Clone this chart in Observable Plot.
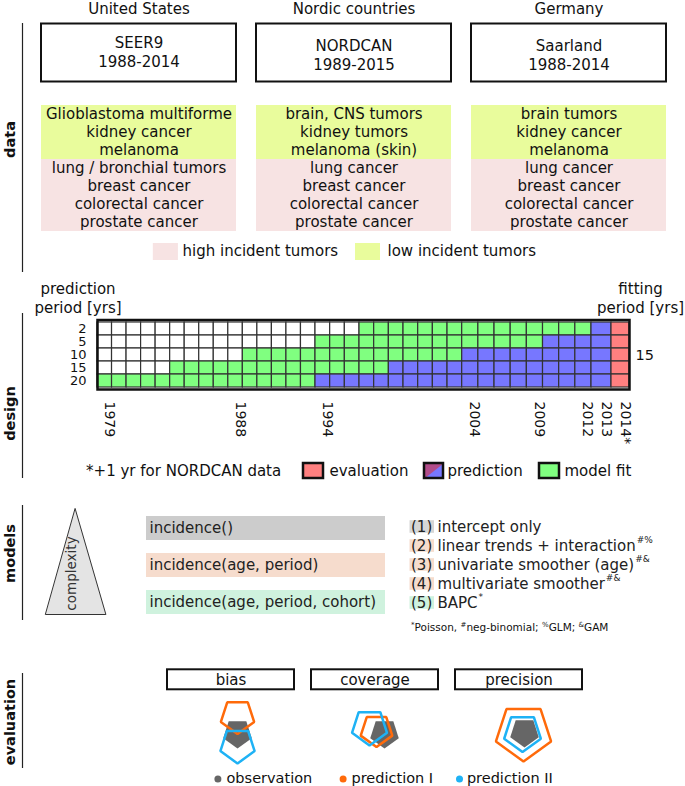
<!DOCTYPE html>
<html><head><meta charset="utf-8">
<script src="https://cdn.jsdelivr.net/npm/d3@7"></script>
<script src="https://cdn.jsdelivr.net/npm/@observablehq/plot@0.6"></script>
<style>
body{margin:0;background:#fff;font-family:"DejaVu Sans",sans-serif;}
#fig{position:relative;width:685px;height:786px;overflow:hidden;background:#fff;}
.layer{position:absolute;}
.layer svg{overflow:visible;display:block;}
#foot{position:absolute;left:411px;top:621px;font-size:10.5px;line-height:12px;color:#111;white-space:nowrap;font-family:"DejaVu Sans",sans-serif;}
#foot sup{font-size:7px;vertical-align:4px;line-height:0;}
</style></head><body><div id="fig"></div>
<script>
// ---------------- data ----------------
const sections = ["data", "design", "models", "evaluation"];

const countries = ["United States", "Nordic countries", "Germany"];
const registries = ["SEER9", "NORDCAN", "Saarland"];
const registryPeriods = ["1988-2014", "1989-2015", "1988-2014"];
const lowIncidentTumors = [
  ["Glioblastoma multiforme", "kidney cancer", "melanoma"],
  ["brain, CNS tumors", "kidney tumors", "melanoma (skin)"],
  ["brain tumors", "kidney cancer", "melanoma"]
];
const highIncidentTumors = [
  ["lung / bronchial tumors", "breast cancer", "colorectal cancer", "prostate cancer"],
  ["lung cancer", "breast cancer", "colorectal cancer", "prostate cancer"],
  ["lung cancer", "breast cancer", "colorectal cancer", "prostate cancer"]
];
const incidenceClasses = ["high incident tumors", "low incident tumors"];

const predictionPeriods = [2, 5, 10, 15, 20];
const fittingPeriod = 15;
const nYears = 35;
const yearTickCols = [0, 9, 15, 25, 29, 32, 33, 34];
const yearTickLabels = ["1979", "1988", "1994", "2004", "2009", "2012", "2013", "2014*"];
const designStatus = ["evaluation", "prediction", "model fit"];
const designNote = "*+1 yr for NORDCAN data";
const designAxisTitles = ["prediction\nperiod [yrs]", "fitting\nperiod [yrs]"];

const modelForms = ["incidence()", "incidence(age, period)", "incidence(age, period, cohort)"];
const modelNames = ["intercept only", "linear trends + interaction", "univariate smoother (age)", "multivariate smoother", "BAPC"];
const modelFormIndex = [0, 1, 1, 1, 2];
const modelMarks = ["", "#%", "#&", "#&", "*"];
const complexityLabel = "complexity";

const metrics = ["bias", "coverage", "precision"];
const series = ["observation", "prediction I", "prediction II"];
// illustrative pentagons per metric (rows) x series (cols): shift and radius
const shiftX = [[7, 7, 7], [9, 1, -6], [4, 3, 2]];
const shiftY = [[0, -17, 12], [0, -3, -6.4], [-1, -1, -0.7]];
const radius = [[15, 17.5, 18], [15, 16.6, 18.4], [15, 29, 19.3]];

// ---------------- styles / layout ----------------
const FONT = "DejaVu Sans";
const INK = "#111";
const LIME = "#e9fc9c", PINKL = "#f7e3e3";
const C_EVAL = "#ff8080", C_PRED = "#7777ff", C_FIT = "#80ff80", C_PURPLE = "#b24c8a";
const FORM_COLORS = ["#cccccc", "#f6dccd", "#cff2de"];
const LIST_COLORS = ["#d6d6d6", "#f6dccd", "#cff2de"];
const SERIES_COLORS = ["#666666", "#ff6a0a", "#1eb2f5"];

const L = {
  secRule: [[23, 272], [313, 478], [505, 620], [673, 768]],
  secMid: [139, 413, 553, 721.5],
  dataLegX: [[152.8, 177.9, 182], [355, 380, 387]],
  dataLegY: [243, 260, 251],
  designLegX: [[303, 323, 329], [424, 443, 447], [539, 559, 564]],
  designLegY: [463, 478, 470.5],
  designTitleX: [77.5, 640], designTitleY: 296.5,
  tri: [[74.7, 508.3], [105.4, 614], [45.2, 614]],
  evalLegX: [[217.4, 226], [342.6, 351], [459, 466.4]], evalLegY: 777.5
};

const fig = document.getElementById("fig");
function place(node, left, top) {
  const d = document.createElement("div");
  d.className = "layer";
  d.style.left = left + "px";
  d.style.top = top + "px";
  d.appendChild(node);
  fig.appendChild(d);
}
const baseStyle = {background: "transparent", fontFamily: FONT, fontSize: "15px", overflow: "visible", color: INK};
const pix = (n) => ({domain: [0, n], range: [0, n], axis: null});

// ---------------- overlay: section rules, labels, legends ----------------
const triVerts = L.tri.map(([x, y]) => ({x, y}));
place(Plot.plot({
  width: 685, height: 786, margin: 0,
  x: pix(685), y: pix(786),
  style: baseStyle,
  marks: [
    Plot.ruleX(sections, {x: 22, y1: (d, i) => L.secRule[i][0], y2: (d, i) => L.secRule[i][1], stroke: "#222", strokeWidth: 1.2}),
    Plot.text(sections, {x: 9.5, y: (d, i) => L.secMid[i], text: d => d, rotate: -90, fontWeight: "bold", fontSize: 14.5, fill: INK}),
    // data legend
    Plot.rect(incidenceClasses, {x1: (d, i) => L.dataLegX[i][0], x2: (d, i) => L.dataLegX[i][1], y1: L.dataLegY[0], y2: L.dataLegY[1], fill: (d, i) => i === 0 ? PINKL : LIME}),
    Plot.text(incidenceClasses, {x: (d, i) => L.dataLegX[i][2], y: L.dataLegY[2], text: d => d, textAnchor: "start", fontSize: 15, fill: INK}),
    // design axis titles
    Plot.text(designAxisTitles, {x: (d, i) => L.designTitleX[i], y: L.designTitleY, text: d => d, lineHeight: 1.29, fontSize: 15, fill: INK}),
    // design legend
    Plot.text([designNote], {x: 85.6, y: L.designLegY[2], text: d => d, textAnchor: "start", fontSize: 15, fill: INK}),
    Plot.rect(designStatus, {x1: (d, i) => L.designLegX[i][0], x2: (d, i) => L.designLegX[i][1], y1: L.designLegY[0], y2: L.designLegY[1],
      fill: d => d === "evaluation" ? C_EVAL : d === "prediction" ? C_PRED : C_FIT}),
    Plot.line([[L.designLegX[1][0], L.designLegY[0]], [L.designLegX[1][1], L.designLegY[0]], [L.designLegX[1][0], L.designLegY[1]]],
      {x: d => d[0], y: d => d[1], fill: C_PURPLE, stroke: "none", curve: "linear-closed"}),
    Plot.rect(designStatus, {x1: (d, i) => L.designLegX[i][0], x2: (d, i) => L.designLegX[i][1], y1: L.designLegY[0], y2: L.designLegY[1],
      fill: "none", stroke: INK, strokeWidth: 2.5}),
    Plot.text(designStatus, {x: (d, i) => L.designLegX[i][2], y: L.designLegY[2], text: d => d, textAnchor: "start", fontSize: 15, fill: INK}),
    // complexity triangle
    Plot.line(triVerts, {x: "x", y: "y", fill: "#e4e4e4", stroke: "#333", strokeWidth: 1, curve: "linear-closed"}),
    Plot.text([complexityLabel], {x: 71.6, y: 573, text: d => d, rotate: -90, fontSize: 13.5, fill: "#333"}),
    // evaluation legend
    Plot.dot(series, {x: (d, i) => L.evalLegX[i][0], y: L.evalLegY + 1, r: 3.5, fill: (d, i) => SERIES_COLORS[i], stroke: "none"}),
    Plot.text(series, {x: (d, i) => L.evalLegX[i][1], y: L.evalLegY, text: d => d, textAnchor: "start", fontSize: 14.5, fill: INK})
  ]
}), 0, 0);

// ---------------- data section: headings + registry boxes ----------------
const xReg = {type: "band", domain: countries, range: [41, 666], paddingInner: 0.095, paddingOuter: 0, axis: null};
const regRows = countries.map((c, i) => ({country: c, registry: registries[i], period: registryPeriods[i]}));
place(Plot.plot({
  width: 685, height: 100, margin: 0,
  x: xReg, y: pix(100),
  style: baseStyle,
  marks: [
    Plot.text(countries, {x: d => d, y: 8.5, text: d => d, fontSize: 15, fill: INK}),
    Plot.barY(regRows, {x: "country", y1: 23.5, y2: 81.5, fill: "white", stroke: INK, strokeWidth: 2}),
    Plot.text(regRows, {x: "country", y: (d, i) => i === 0 ? 51 : 54, text: d => d.registry + "\n" + d.period, lineHeight: 1.22, fontSize: 15, fill: INK})
  ]
}), 0, 0);

// ---------------- data section: tumor table ----------------
const tumorCells = [];
countries.forEach((c, i) => {
  lowIncidentTumors[i].forEach((t, j) => tumorCells.push({country: c, row: j, tumor: t, cls: incidenceClasses[1]}));
  highIncidentTumors[i].forEach((t, j) => tumorCells.push({country: c, row: lowIncidentTumors[i].length + j, tumor: t, cls: incidenceClasses[0]}));
});
place(Plot.plot({
  width: 685, height: 130, margin: 0,
  x: xReg,
  y: {type: "band", domain: d3.range(7), range: [0, 130], padding: 0, axis: null},
  color: {type: "ordinal", domain: incidenceClasses, range: [PINKL, LIME]},
  style: baseStyle,
  marks: [
    Plot.cell(tumorCells, {x: "country", y: "row", fill: "cls", inset: 0}),
    Plot.text(tumorCells, {x: "country", y: "row", text: "tumor", fontSize: 15, fill: INK})
  ]
}), 0, 103.3);

// ---------------- design grid ----------------
const gridCells = [];
predictionPeriods.forEach(p => {
  for (let c = 0; c < nYears; c++) {
    const status = c >= nYears - 1 ? "evaluation"
      : c >= nYears - p ? "prediction"
      : c >= nYears - p - fittingPeriod ? "model fit" : "none";
    gridCells.push({col: c, period: p, status});
  }
});
place(Plot.plot({
  width: 685, height: 210, marginLeft: 97, marginRight: 56, marginTop: 49.5, marginBottom: 91,
  x: {type: "linear", domain: [0, 15, 25, 33, 34, 35], range: [97, 315, 461.7, 591, 611, 629], axis: null},
  y: {type: "band", domain: predictionPeriods, padding: 0, axis: null},
  color: {type: "ordinal", domain: ["none", ...designStatus], range: ["white", C_EVAL, C_PRED, C_FIT]},
  style: {...baseStyle, fontSize: "14px"},
  marks: [
    Plot.barX(gridCells, {x1: "col", x2: d => d.col + 1, y: "period", fill: "status", stroke: "#333", strokeWidth: 1.2}),
    Plot.frame({stroke: INK, strokeWidth: 2.5}),
    Plot.text(predictionPeriods, {y: d => d, frameAnchor: "left", textAnchor: "end", dx: -11, text: d => String(d), fontSize: 13, fill: INK}),
    Plot.text([fittingPeriod], {y: () => 10, frameAnchor: "right", textAnchor: "start", dx: 6, text: d => String(d), fontSize: 14.5, fill: INK}),
    Plot.text(yearTickCols, {x: d => d + 0.5, frameAnchor: "bottom", rotate: 90, textAnchor: "start", dy: 12, text: (d, i) => yearTickLabels[i], fontSize: 14, fill: INK})
  ]
}), 0, 270);

// ---------------- models: forms ----------------
place(Plot.plot({
  width: 685, height: 140, margin: 0,
  x: pix(685),
  y: {type: "band", domain: modelForms, range: [25, 125], paddingInner: 0.357, paddingOuter: 0, axis: null},
  color: {type: "ordinal", domain: modelForms, range: FORM_COLORS},
  style: baseStyle,
  marks: [
    Plot.barX(modelForms, {y: d => d, x1: 146, x2: 385, fill: d => d}),
    Plot.text(modelForms, {y: d => d, x: 149, textAnchor: "start", text: d => d, fontSize: 15, fill: "#222"})
  ]
}), 0, 490);

// ---------------- models: list ----------------
const modelRows = modelNames.map((name, i) => ({n: i + 1, name, form: modelForms[modelFormIndex[i]], mark: modelMarks[i]}));
const ctx = document.createElement("canvas").getContext("2d");
ctx.font = "15px 'DejaVu Sans'";
place(Plot.plot({
  width: 685, height: 140, margin: 0,
  x: pix(685),
  y: {type: "band", domain: modelRows.map(d => d.n), range: [25.1, 123.9], padding: 0, axis: null},
  color: {type: "ordinal", domain: modelForms, range: LIST_COLORS},
  style: baseStyle,
  marks: [
    Plot.barX(modelRows, {y: "n", x1: 409.5, x2: 434, fill: "form", insetTop: 3.2, insetBottom: 3.2}),
    Plot.text(modelRows, {y: "n", x: 410.5, textAnchor: "start", text: d => `(${d.n})`, fontSize: 15, fill: "#222"}),
    Plot.text(modelRows, {y: "n", x: 437, textAnchor: "start", text: "name", fontSize: 15, fill: "#222"}),
    Plot.text(modelRows.filter(d => d.mark), {y: "n", x: d => 437 + ctx.measureText(d.name).width + 1, dy: -6, textAnchor: "start", text: "mark", fontSize: 9, fill: "#222"})
  ]
}), 0, 490);

// footnote
const foot = document.createElement("div");
foot.id = "foot";
foot.innerHTML = "<sup>*</sup>Poisson, <sup>#</sup>neg-binomial; <sup>%</sup>GLM; <sup>&amp;</sup>GAM";
fig.appendChild(foot);

// ---------------- evaluation: metric boxes ----------------
const xMet = {type: "band", domain: metrics, range: [166, 584], paddingInner: 0.117, paddingOuter: 0, axis: null};
place(Plot.plot({
  width: 685, height: 40, margin: 0,
  x: xMet, y: pix(40),
  style: baseStyle,
  marks: [
    Plot.barY(metrics, {x: d => d, y1: 9.3, y2: 29.3, fill: "white", stroke: INK, strokeWidth: 2}),
    Plot.text(metrics, {x: d => d, y: 19.3, text: d => d, fontSize: 15, fill: INK})
  ]
}), 0, 660);

// ---------------- evaluation: pentagons ----------------
const metricBand = d3.scaleBand().domain(metrics).range([166, 584]).paddingInner(0.117).paddingOuter(0);
metrics.forEach((m, k) => {
  const verts = [];
  series.forEach((s, j) => {
    for (let v = 0; v < 5; v++) {
      const a = Math.PI / 2 + v * 2 * Math.PI / 5;
      verts.push({series: s, x: shiftX[k][j] + radius[k][j] * Math.cos(a), y: 43 + shiftY[k][j] + radius[k][j] * Math.sin(a)});
    }
  });
  const w = metricBand.bandwidth();
  place(Plot.plot({
    width: w, height: 96, margin: 0,
    x: {domain: [-w / 2, w / 2], range: [0, w], axis: null},
    y: pix(96),
    color: {type: "ordinal", domain: series, range: SERIES_COLORS},
    style: baseStyle,
    marks: [
      Plot.line(verts.filter(d => d.series === series[0]), {x: "x", y: "y", fill: SERIES_COLORS[0], stroke: "none", curve: "linear-closed"}),
      Plot.line(verts.filter(d => d.series !== series[0]), {x: "x", y: "y", z: "series", stroke: "series", fill: "none", strokeWidth: 2.5, strokeLinejoin: "miter", curve: "linear-closed"})
    ]
  }), metricBand(m), 690);
});
</script></body></html>
